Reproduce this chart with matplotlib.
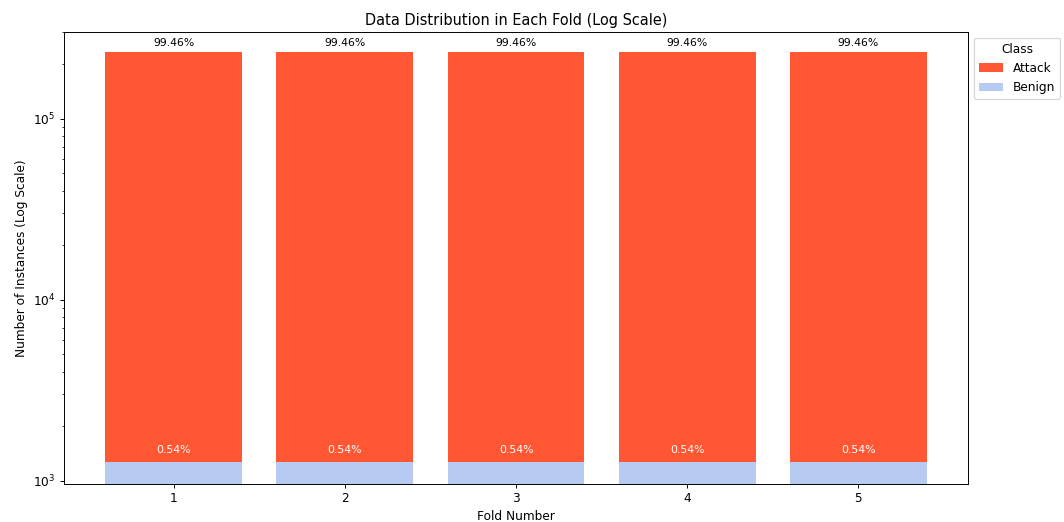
import matplotlib
matplotlib.use("Agg")
import matplotlib.pyplot as plt
import numpy as np

folds = [1, 2, 3, 4, 5]
benign = [1262, 1262, 1262, 1262, 1262]
attack = [232400, 232400, 232400, 232400, 232400]
attack_pct = ["99.46%"] * 5
benign_pct = ["0.54%"] * 5

c_attack = "#FF5733"
c_benign = "#B6CAF2"

DPI = 87
fig = plt.figure(figsize=(1064/DPI, 522/DPI), dpi=DPI)
ax = fig.add_axes([64/1064, 1-484/522, (968-64)/1064, (484-32)/522])

b1 = ax.bar(folds, benign, width=0.8, color=c_benign, label="Benign")
b2 = ax.bar(folds, attack, width=0.8, bottom=benign, color=c_attack, label="Attack")
ax.set_yscale("log")

for f, b, a, ap, bp in zip(folds, benign, attack, attack_pct, benign_pct):
    ax.text(f, (a + b) * 1.05, ap, ha="center", va="bottom", fontsize=9, color="black")
    ax.text(f, b * 1.1, bp, ha="center", va="bottom", fontsize=9, color="white")

ax.set_ylim(959, 301000)
ax.set_xticks(folds)
ax.set_title("Data Distribution in Each Fold (Log Scale)", fontsize=12)
ax.set_xlabel("Fold Number")
ax.set_ylabel("Number of Instances (Log Scale)")
ax.legend(handles=[b2, b1], title="Class", loc="upper left", bbox_to_anchor=(1.0, 1.0))

fig.savefig("out.png", dpi=DPI)
